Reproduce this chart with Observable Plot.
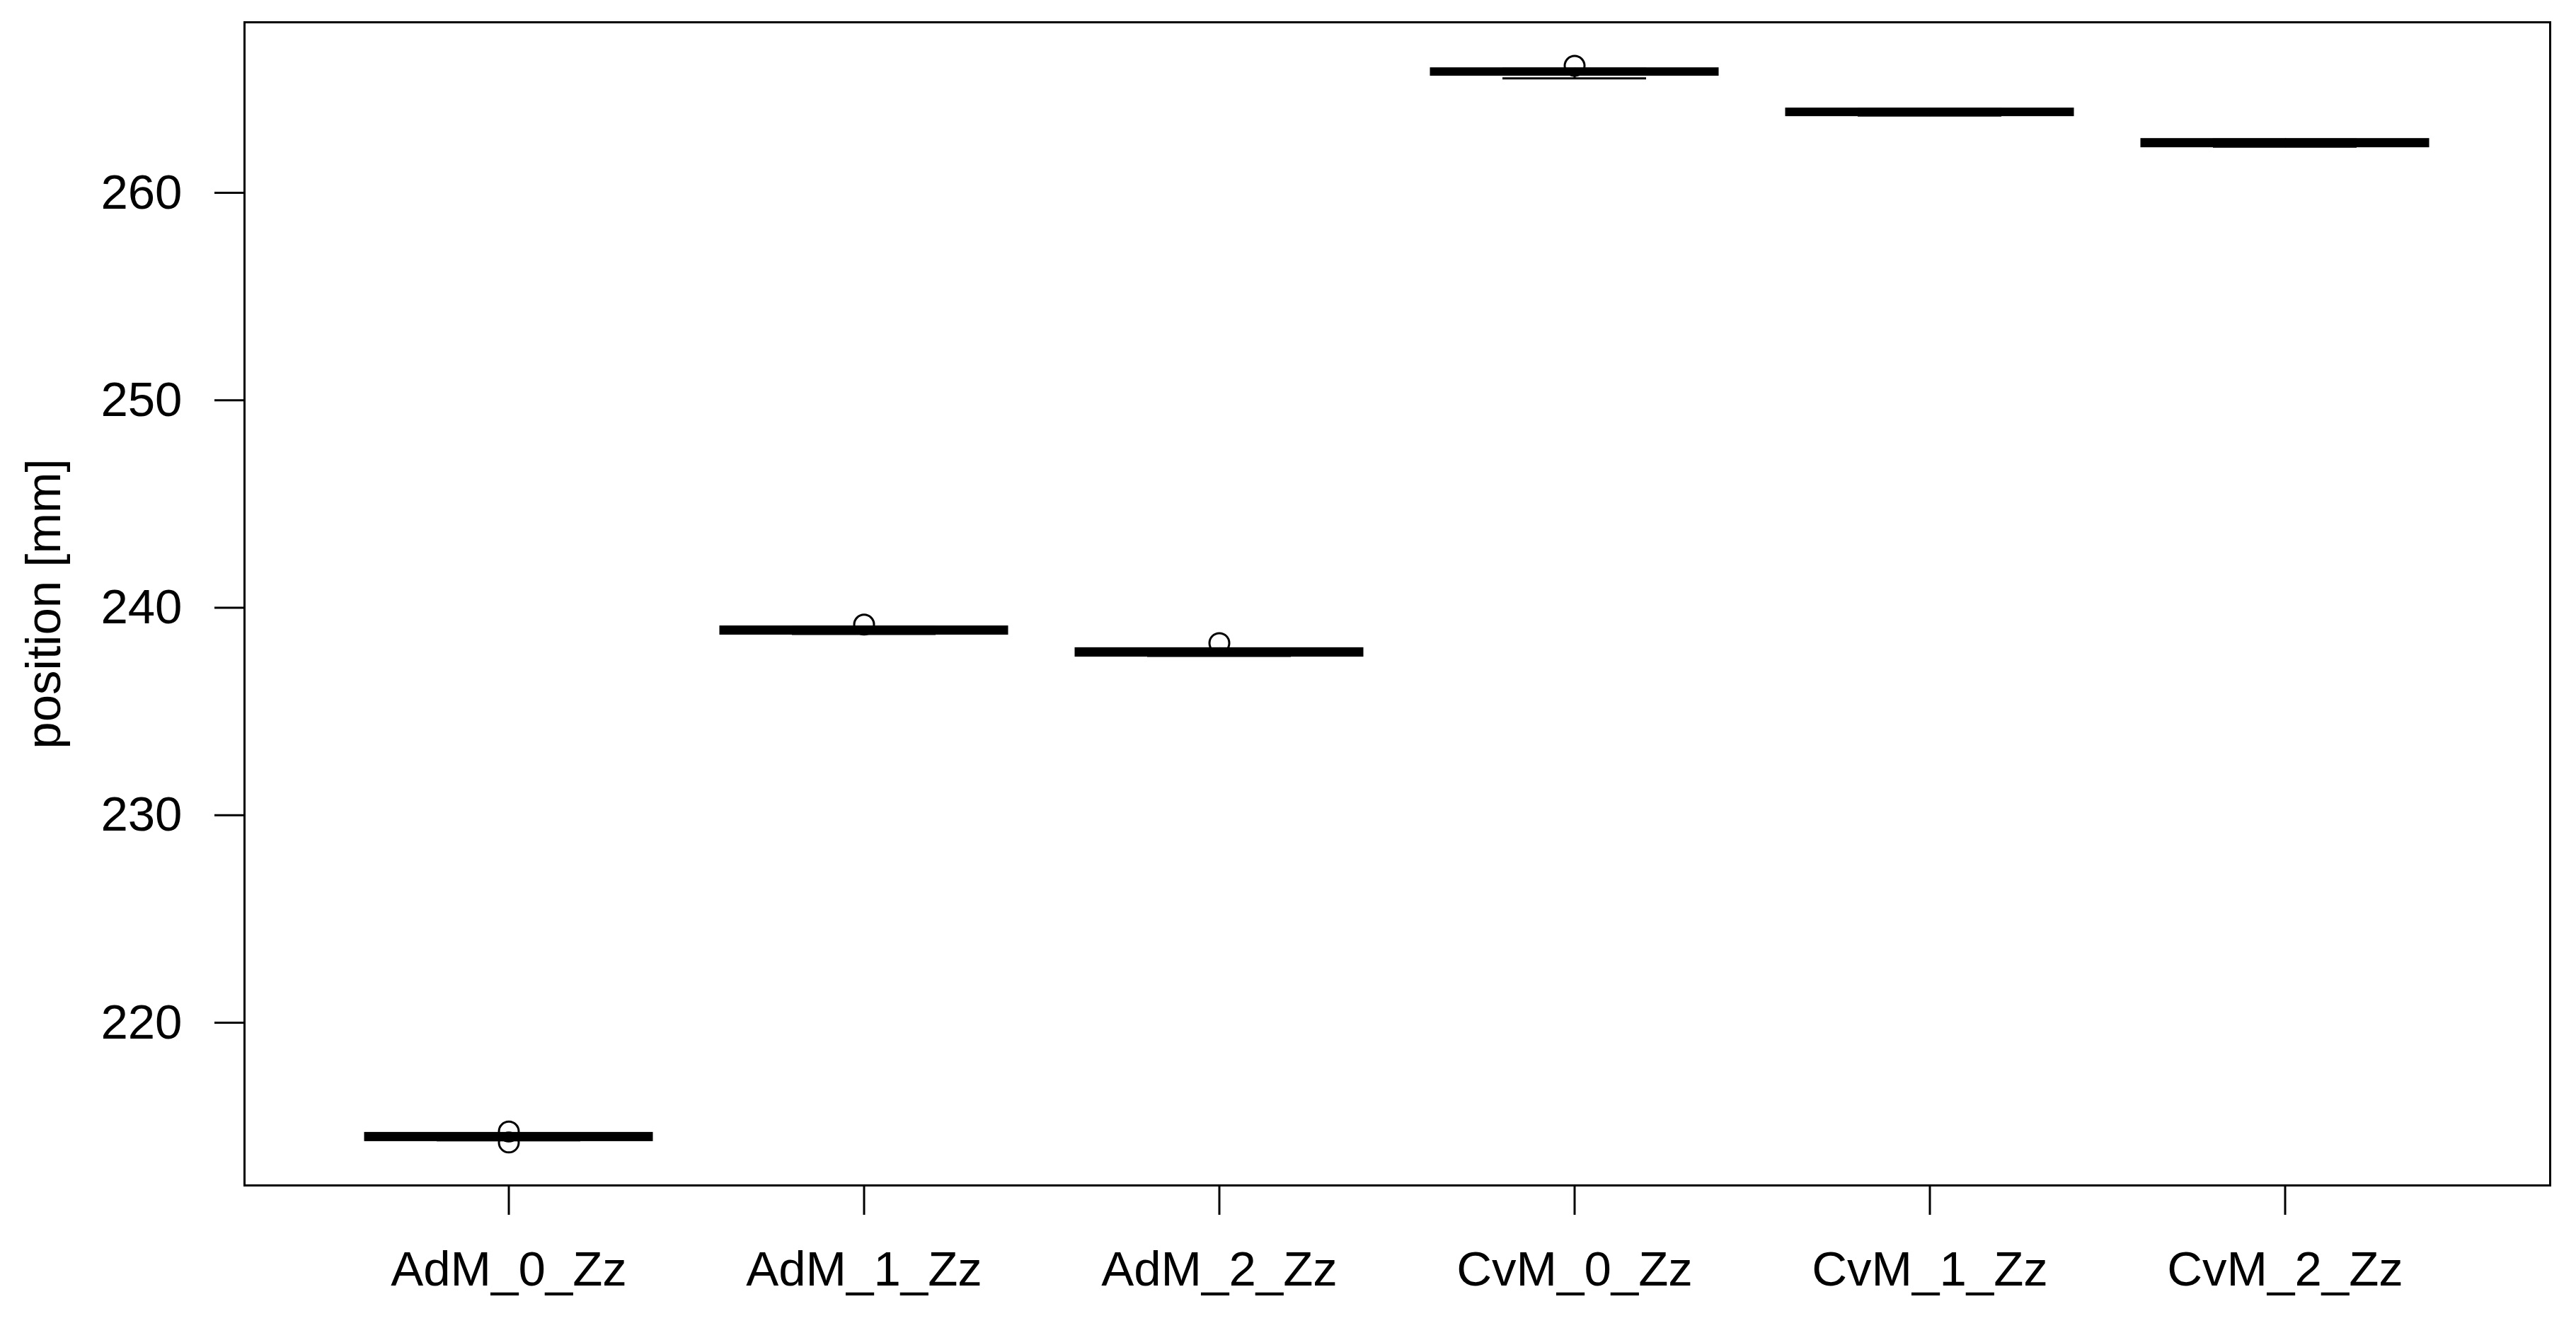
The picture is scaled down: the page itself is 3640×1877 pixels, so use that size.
<!DOCTYPE html>
<html><head><meta charset="utf-8">
<script src="https://cdn.jsdelivr.net/npm/d3@7"></script>
<script src="https://cdn.jsdelivr.net/npm/@observablehq/plot@0.6"></script>
<style>html,body{margin:0;padding:0;background:#fff}svg{display:block}</style>
</head><body><div id="chart"></div>
<script>
const categories = ["AdM_0_Zz","AdM_1_Zz","AdM_2_Zz","CvM_0_Zz","CvM_1_Zz","CvM_2_Zz"];
const q1Values     = [214.33, 238.74, 237.68, 265.68, 263.73, 262.23];
const medianValues = [214.49, 238.91, 237.86, 265.83, 263.89, 262.40];
const q3Values     = [214.67, 239.08, 238.03, 265.98, 264.04, 262.57];
const whiskerLow   = [214.33, 238.74, 237.68, 265.52, 263.73, 262.23];
const whiskerHigh  = [214.67, 239.08, 238.03, 265.98, 264.04, 262.57];
const outlierCategory = ["AdM_0_Zz","AdM_0_Zz","AdM_1_Zz","AdM_2_Zz","CvM_0_Zz"];
const outlierValue    = [214.76, 214.23, 239.19, 238.30, 266.12];
const yTicks = [220, 230, 240, 250, 260];
const yLabel = "position [mm]";

const boxes = categories.map((c, i) => ({
  cat: c, q1: q1Values[i], med: medianValues[i], q3: q3Values[i],
  lo: whiskerLow[i], hi: whiskerHigh[i]
}));
const outliers = outlierCategory.map((c, i) => ({cat: c, v: outlierValue[i]}));

const chart = Plot.plot({
  width: 3640, height: 1877,
  marginLeft: 345, marginRight: 37, marginTop: 31, marginBottom: 202,
  style: {fontFamily: "'Liberation Sans', Arial, sans-serif", fontSize: "69px", color: "black", background: "white"},
  x: {type: "band", domain: categories, paddingInner: 0.1925, paddingOuter: 0.336, label: null},
  y: {domain: [212.16, 268.22], label: null},
  marks: [
    Plot.ruleX(boxes, {x: "cat", y1: "lo", y2: "q1", stroke: "black", strokeWidth: 3, strokeDasharray: "13,13"}),
    Plot.ruleX(boxes, {x: "cat", y1: "q3", y2: "hi", stroke: "black", strokeWidth: 3, strokeDasharray: "13,13"}),
    Plot.tickY(boxes, {x: "cat", y: "lo", insetLeft: 101, insetRight: 101, stroke: "black", strokeWidth: 3}),
    Plot.tickY(boxes, {x: "cat", y: "hi", insetLeft: 101, insetRight: 101, stroke: "black", strokeWidth: 3}),
    Plot.barY(boxes, {x: "cat", y1: "q1", y2: "q3", fill: "white", stroke: "black", strokeWidth: 3}),
    Plot.tickY(boxes, {x: "cat", y: "med", stroke: "black", strokeWidth: 10}),
    Plot.dot(outliers, {x: "cat", y: "v", r: 14, stroke: "black", strokeWidth: 3, fill: "none"}),
    Plot.frame({stroke: "black", strokeWidth: 3}),
    Plot.axisY({ticks: yTicks, tickSize: 42, tickPadding: 46, stroke: "black", strokeWidth: 3, label: null}),
    Plot.axisX({tickSize: 42, tickPadding: 50, stroke: "black", strokeWidth: 3, label: null}),
    Plot.text([yLabel], {text: d => d, frameAnchor: "left", dx: -283, rotate: -90, textAnchor: "middle", lineAnchor: "middle", fill: "black"})
  ]
});
document.getElementById("chart").appendChild(chart);
</script>
</body></html>
